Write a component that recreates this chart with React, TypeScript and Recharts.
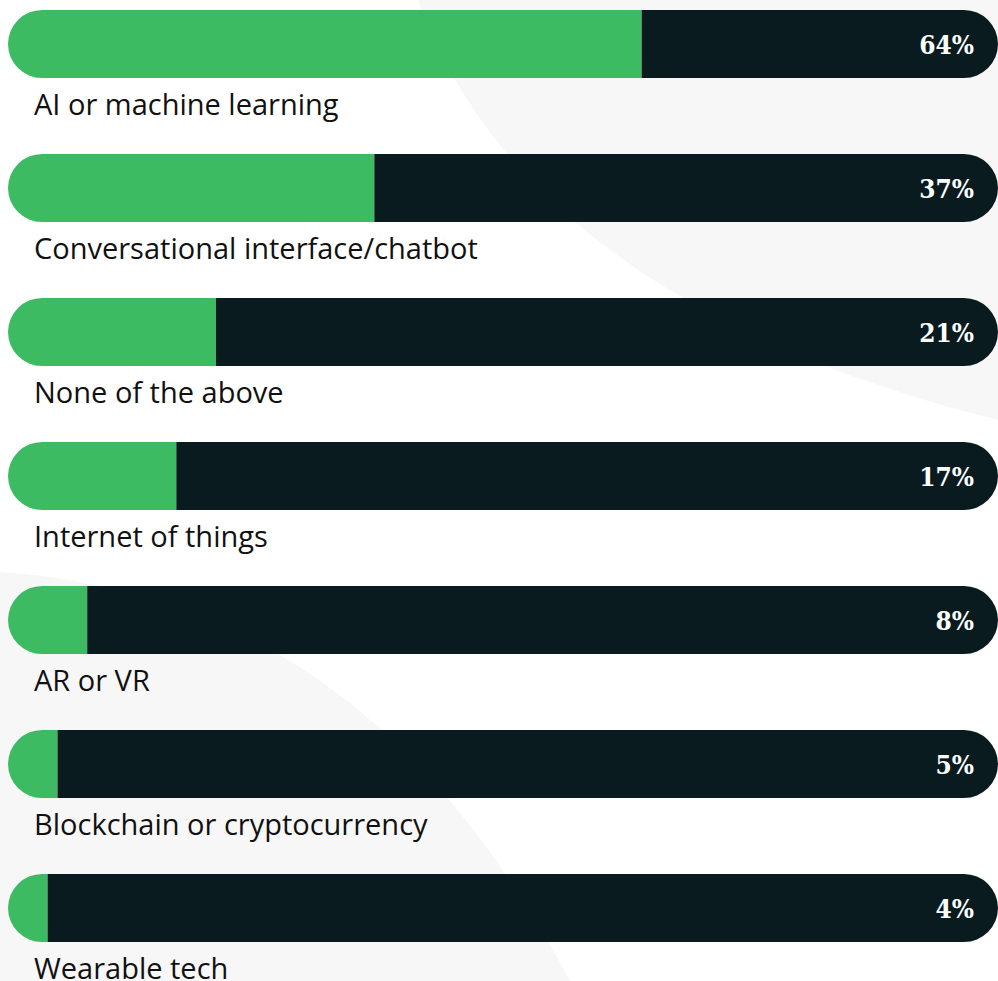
import { Bar, BarChart, LabelList, XAxis, YAxis } from 'recharts'

const categories = [
	'AI or machine learning',
	'Conversational interface/chatbot',
	'None of the above',
	'Internet of things',
	'AR or VR',
	'Blockchain or cryptocurrency',
	'Wearable tech',
]
const shares = [64, 37, 21, 17, 8, 5, 4]

const GREEN = '#3dbb62'
const DARK = '#0a1b1f'
const BG_SHAPE = '#f7f7f7'

const data = categories.map((name, i) => ({ name, value: shares[i], rest: 100 - shares[i] }))

// green part: left half-circle cap, cut off flat where the value ends
const GreenShape = (props: any) => {
	const { x, y, width, height } = props
	const r = height / 2
	const cy = y + r
	if (width >= r) {
		const d = `M${x + r},${y} L${x + width},${y} L${x + width},${y + height} L${x + r},${y + height} A${r},${r} 0 0 1 ${x + r},${y} Z`
		return <path d={d} fill={GREEN} />
	}
	const dx = r - width
	const h = Math.sqrt(r * r - dx * dx)
	const d = `M${x + width},${cy - h} A${r},${r} 0 0 0 ${x + width},${cy + h} Z`
	return <path d={d} fill={GREEN} />
}

const NameLabel = (props: any) => {
	const { x, y, height, value } = props
	return (
		<text
			x={x + 26}
			y={y + height + 37}
			fill="#111"
			fontSize={29}
			fontFamily="'Open Sans', 'Noto Sans', sans-serif"
		>
			{value}
		</text>
	)
}

const PctLabel = (props: any) => {
	const { x, y, width, height, value } = props
	return (
		<text
			x={x + width - 24}
			y={y + height / 2 + 10}
			fill="#fff"
			fontSize={26}
			fontWeight={700}
			textAnchor="end"
			fontFamily="'DejaVu Serif Condensed', 'DejaVu Serif', serif"
		>
			{value}%
		</text>
	)
}

export default function App() {
	return (
		<div style={{ position: 'relative', width: 998, height: 981, overflow: 'hidden', background: '#fff' }}>
			<style>{'body{margin:0}'}</style>
			<svg width={998} height={981} style={{ position: 'absolute', left: 0, top: 0 }}>
				<path d="M418,0 C480,170 640,330 998,420 L998,0 Z" fill={BG_SHAPE} />
				<path d="M0,572 C250,590 430,720 570,981 L0,981 Z" fill={BG_SHAPE} />
			</svg>
			<div style={{ position: 'absolute', left: 0, top: -28 }}>
				<BarChart
					width={998}
					height={1008}
					data={data}
					layout="vertical"
					margin={{ top: 0, right: 0, bottom: 0, left: 8 }}
					barSize={68}
				>
					<XAxis type="number" domain={[0, 100]} hide />
					<YAxis type="category" dataKey="name" hide width={0} />
					<Bar dataKey="value" stackId="a" fill={GREEN} shape={GreenShape} isAnimationActive={false}>
						<LabelList dataKey="name" content={NameLabel} />
					</Bar>
					<Bar dataKey="rest" stackId="a" fill={DARK} radius={[0, 34, 34, 0]} isAnimationActive={false}>
						<LabelList dataKey="value" content={PctLabel} />
					</Bar>
				</BarChart>
			</div>
		</div>
	)
}
